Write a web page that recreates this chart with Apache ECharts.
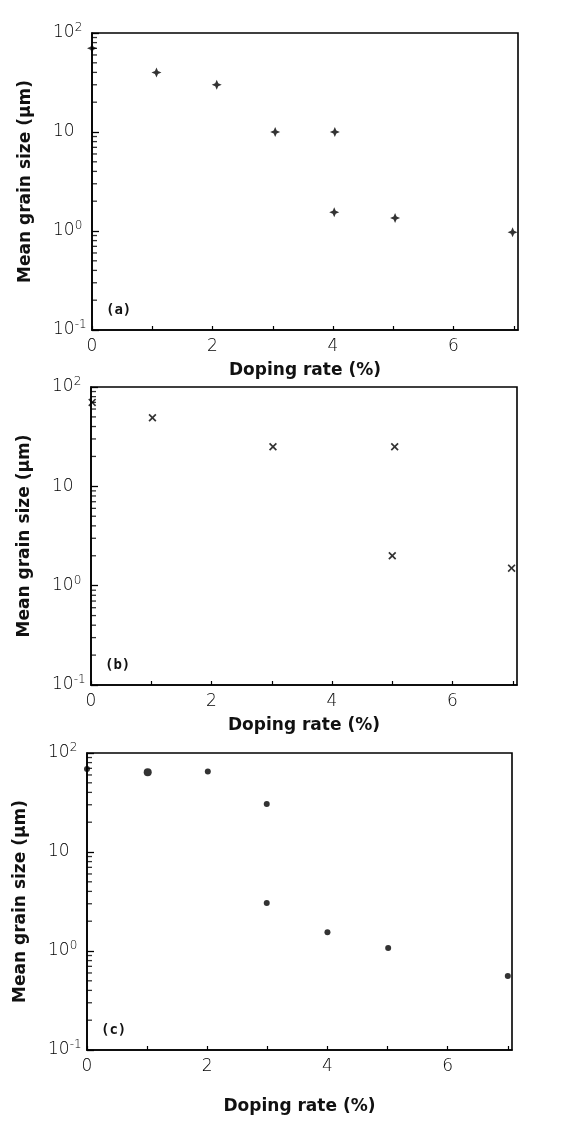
<!DOCTYPE html>
<html>
<head>
<meta charset="utf-8">
<script src="https://cdn.jsdelivr.net/npm/echarts@6/dist/echarts.min.js"></script>
<style>
  html, body { margin: 0; padding: 0; background: #fff; }
  #chart { width: 583px; height: 1121px; }
</style>
</head>
<body>
<div id="chart"></div>
<script>
// panel (a): "+" markers
const xA = [0, 1.07, 2.07, 3.04, 4.03, 4.02, 5.03, 6.98]
const yA = [70, 40, 30, 10, 10, 1.55, 1.35, 0.97]
// panel (b): "x" markers
const xB = [0.02, 1.02, 3.02, 5.04, 5.0, 6.98]
const yB = [70, 49, 25, 25, 2.0, 1.5]
// panel (c): dots
const xC = [0, 1.01, 2.01, 2.99, 2.99, 4.0, 5.01, 7.0]
const yC = [69, 64, 65, 30.6, 3.05, 1.55, 1.07, 0.56]

const panelLabels = ['(a)', '(b)', '(c)']
const yMinorTicks = [0.2, 0.3, 0.4, 0.5, 0.6, 0.7, 0.8, 0.9, 2, 3, 4, 5, 6, 7, 8, 9, 20, 30, 40, 50, 60, 70, 80, 90]
const xLabelValues = [0, 2, 4, 6]

const TICK_FONT = '"DejaVu Sans", sans-serif'
const TITLE_FONT = '"DejaVu Sans", sans-serif'

const grids = [
  { left: 92, top: 33, width: 426, height: 297 },
  { left: 91, top: 387, width: 426, height: 298 },
  { left: 87, top: 753, width: 425, height: 297 },
]
const xNameGaps = [32, 32, 48]

const starPath = 'path://M0,-10 L3,-3 L10,0 L3,3 L0,10 L-3,3 L-10,0 L-3,-3 Z'
const crossPath = 'path://M-10,-7 L-7,-10 L0,-3 L7,-10 L10,-7 L3,0 L10,7 L7,10 L0,3 L-7,10 L-10,7 L-3,0 Z'

function yLabel(v) {
  const e = Math.round(Math.log10(v))
  if (e === 1) return '10'
  return '10{sup|' + (e < 0 ? '-' + Math.abs(e) : e) + '}'
}

function zip(xs, ys) {
  return xs.map((x, i) => [x, ys[i]])
}

const xAxes = grids.map((g, i) => ({
  type: 'value',
  gridIndex: i,
  min: 0,
  max: 7.07,
  interval: 1,
  name: 'Doping rate (%)',
  nameLocation: 'middle',
  nameGap: xNameGaps[i],
  nameTextStyle: { fontFamily: TITLE_FONT, fontSize: 17, fontWeight: 'bold', color: '#111' },
  axisLine: { show: true, lineStyle: { color: '#000', width: 1.6 } },
  axisTick: { show: true, inside: true, length: 4, lineStyle: { color: '#000', width: 1.2 } },
  axisLabel: {
    margin: 8,
    fontFamily: TICK_FONT,
    fontSize: 17,
    fontWeight: 200,
    color: '#000',
    showMaxLabel: false,
    formatter: (v) => (xLabelValues.includes(v) ? String(v) : ''),
  },
  splitLine: { show: false },
}))

const yAxes = grids.map((g, i) => ({
  type: 'log',
  gridIndex: i,
  logBase: 10,
  min: 0.1,
  max: 100,
  splitNumber: 3,
  name: 'Mean grain size (μm)',
  nameLocation: 'middle',
  nameGap: 58,
  nameTextStyle: { fontFamily: TITLE_FONT, fontSize: 17, fontWeight: 'bold', color: '#111' },
  axisLine: { show: true, lineStyle: { color: '#000', width: 1.6 } },
  axisTick: { show: true, inside: true, length: 7, lineStyle: { color: '#000', width: 1.3 } },
  axisLabel: {
    margin: 39,
    align: 'left',
    fontFamily: TICK_FONT,
    fontSize: 17,
    fontWeight: 200,
    color: '#000',
    formatter: yLabel,
    rich: {
      sup: { fontFamily: TICK_FONT, fontSize: 12, color: '#000', verticalAlign: 'top', padding: [0, 0, 10, 0] },
    },
  },
  splitLine: { show: false },
}))

const markerSeries = [
  { data: zip(xA, yA), symbol: starPath, symbolSize: 10 },
  { data: zip(xB, yB), symbol: crossPath, symbolSize: 8 },
  { data: zip(xC, yC), symbol: 'circle', symbolSize: 6 },
].map((s, i) => ({
  type: 'scatter',
  xAxisIndex: i,
  yAxisIndex: i,
  clip: false,
  symbol: s.symbol,
  symbolSize: s.symbolSize,
  itemStyle: { color: '#000' },
  data: s.data,
  silent: true,
}))

// second point of (c) is drawn slightly larger in the reference
markerSeries[2].data[1] = { value: markerSeries[2].data[1], symbolSize: 8 }

const minorTickSeries = grids.map((g, i) => ({
  type: 'scatter',
  xAxisIndex: i,
  yAxisIndex: i,
  clip: false,
  symbol: 'rect',
  symbolSize: [5, 1.3],
  symbolOffset: [2.5, 0],
  itemStyle: { color: '#000' },
  data: yMinorTicks.map((v) => [0, v]),
  silent: true,
  z: 1,
}))

const chart = echarts.init(document.getElementById('chart'))
chart.setOption({
  animation: false,
  backgroundColor: '#fff',
  grid: grids.map((g) => ({
    ...g,
    show: true,
    borderColor: '#000',
    borderWidth: 1.6,
    backgroundColor: 'transparent',
  })),
  xAxis: xAxes,
  yAxis: yAxes,
  graphic: grids.map((g, i) => ({
    type: 'text',
    left: g.left + 14,
    top: g.top + g.height - 27,
    style: {
      text: panelLabels[i],
      font: 'bold 14px "DejaVu Sans Mono", monospace',
      fill: '#111',
    },
  })),
  series: [...minorTickSeries, ...markerSeries],
})
</script>
</body>
</html>
